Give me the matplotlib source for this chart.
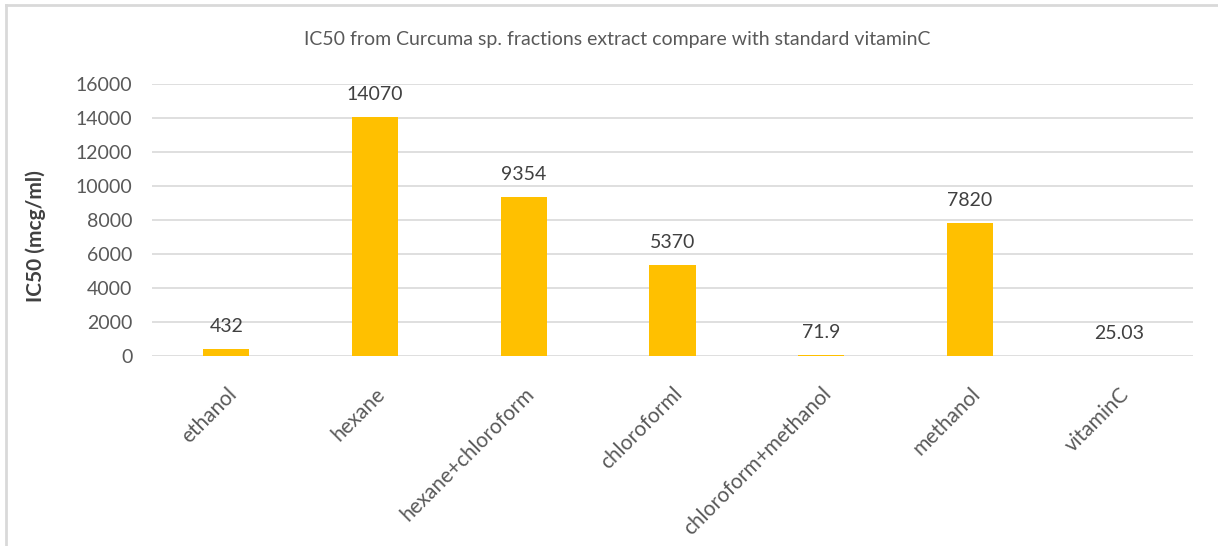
import matplotlib
matplotlib.use("Agg")
import matplotlib.pyplot as plt
from matplotlib.lines import Line2D

categories = ["ethanol", "hexane", "hexane+chloroform", "chloroforml",
              "chloroform+methanol", "methanol", "vitaminC"]
values = [432, 14070, 9354, 5370, 71.9, 7820, 25.03]
value_labels = ["432", "14070", "9354", "5370", "71.9", "7820", "25.03"]
yticks = [0, 2000, 4000, 6000, 8000, 10000, 12000, 14000, 16000]
title = "IC50 from Curcuma sp. fractions extract compare with standard vitaminC"
ylabel = "IC50 (mcg/ml)"

plt.rcParams['font.family'] = ['Lato', 'DejaVu Sans']

W, H = 1218, 546
fig = plt.figure(figsize=(W / 100, H / 100), dpi=100)
ax = fig.add_axes([152 / W, 1 - 356 / H, (1193 - 152) / W, (356 - 84) / H])

x = list(range(len(categories)))
ax.bar(x, values, width=0.31, color="#FFC000", zorder=3)
ax.set_xlim(-0.5, len(categories) - 0.5)
ax.set_ylim(0, 16000)
ax.set_yticks(yticks)
ax.set_yticklabels([str(t) for t in yticks], fontsize=14, color="#595959")
ax.yaxis.grid(True, color="#D9D9D9", linewidth=1.2, zorder=0)
ax.tick_params(axis="both", length=0)
ax.tick_params(axis="y", pad=14)
for s in ax.spines.values():
    s.set_visible(False)

ax.set_xticks(x)
ax.set_xticklabels(categories, rotation=45, ha="right", rotation_mode="anchor",
                   fontsize=15, color="#595959")
ax.tick_params(axis="x", pad=20)

for xi, v, lab in zip(x, values, value_labels):
    ax.annotate(lab, (xi, v), xytext=(0, 10), textcoords="offset points",
                ha="center", va="bottom", fontsize=14, color="#404040")

ax.set_ylabel(ylabel, fontsize=15, color="#404040", fontweight="bold")
ax.yaxis.set_label_coords((46 - 152) / (1193 - 152), 0.44)

fig.text(617 / W, 1 - 40 / H, title, ha="center", va="center", fontsize=14,
         color="#595959")

# outer frame
fig.add_artist(Line2D([6 / W, 6 / W], [0, 1 - 5 / H], color="#D9D9D9", lw=2,
                      transform=fig.transFigure))
fig.add_artist(Line2D([6 / W, 1], [1 - 5 / H, 1 - 5 / H], color="#D9D9D9", lw=2,
                      transform=fig.transFigure))

fig.savefig("out.png", dpi=100)
